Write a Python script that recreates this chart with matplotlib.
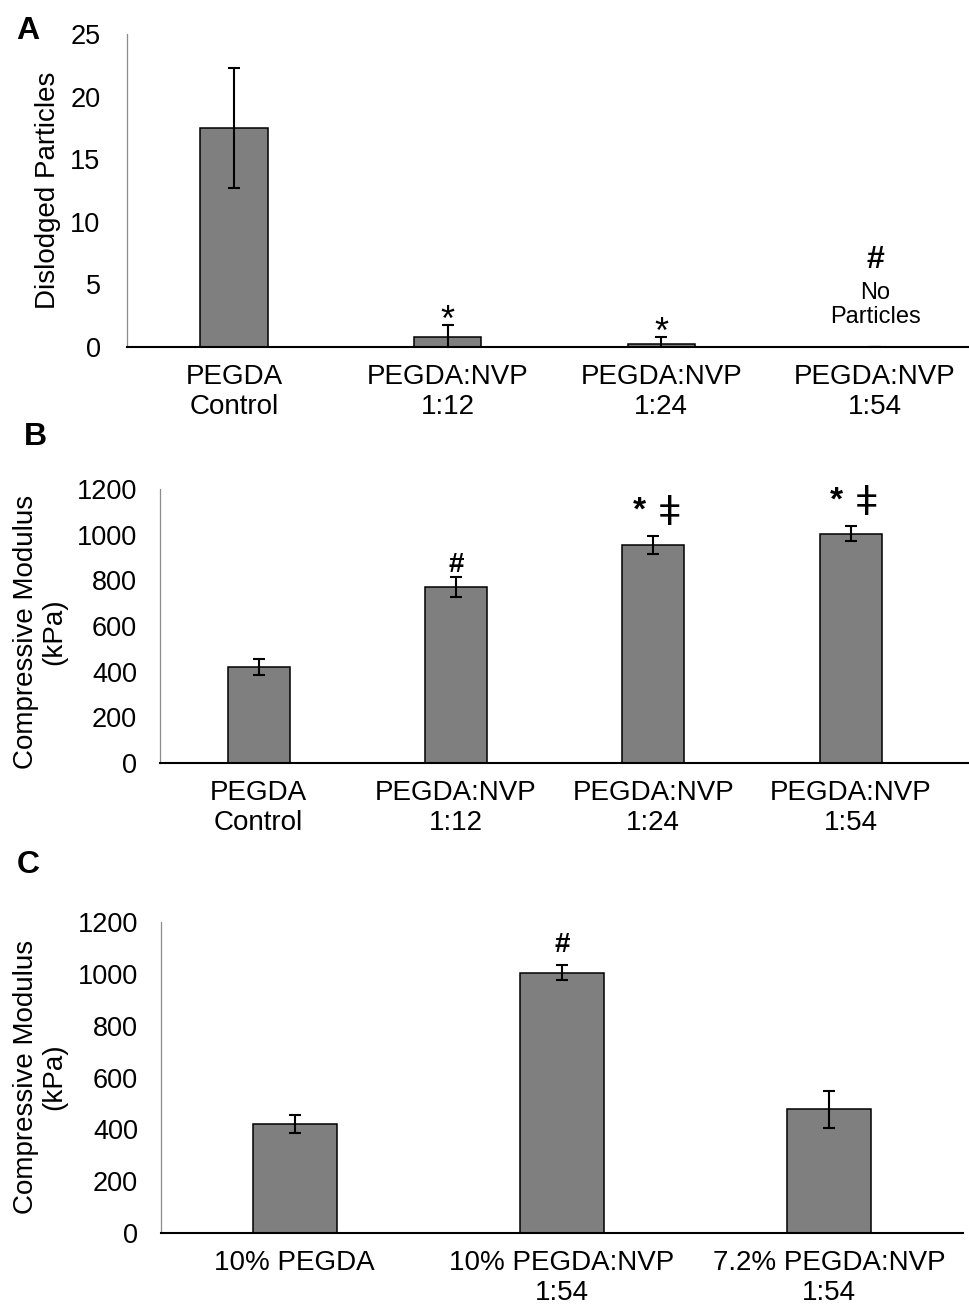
import matplotlib
matplotlib.use('Agg')
import matplotlib.pyplot as plt

plt.rcParams['font.family'] = ['Liberation Sans', 'DejaVu Sans']

# panel A: dislodged particles
a_labels = ['PEGDA\nControl', 'PEGDA:NVP\n1:12', 'PEGDA:NVP\n1:24', 'PEGDA:NVP\n1:54']
a_particles = [17.5, 0.8, 0.27, 0.0]
a_err = [4.8, 0.93, 0.53, 0.0]

# panel B: compressive modulus vs NVP ratio
b_labels = ['PEGDA\nControl', 'PEGDA:NVP\n1:12', 'PEGDA:NVP\n1:24', 'PEGDA:NVP\n1:54']
b_modulus = [419, 770, 955, 1004]
b_err = [35, 44, 40, 33]

# panel C: compressive modulus vs PEGDA content
c_labels = ['10% PEGDA', '10% PEGDA:NVP\n1:54', '7.2% PEGDA:NVP\n1:54']
c_modulus = [420, 1005, 477]
c_err = [34, 30, 70]

W, H = 969, 1309
fig = plt.figure(figsize=(W / 100, H / 100), dpi=100)


def px_axes(left, top, right, bottom):
    return fig.add_axes([left / W, 1 - bottom / H, (right - left) / W, (bottom - top) / H])


def bars(ax, labels, values, errs, ymax, step, xmax, ypad):
    x = list(range(len(values)))
    ax.bar(x, values, width=0.315, color='#7f7f7f', edgecolor='black', linewidth=1.1, zorder=2)
    ax.errorbar(x, values, yerr=errs, fmt='none', ecolor='black', elinewidth=1.5,
                capsize=4.5, capthick=1.5, zorder=3)
    ax.set_xlim(-0.5, xmax)
    ax.set_ylim(0, ymax)
    ax.set_yticks(range(0, ymax + 1, step))
    ax.set_xticks(x)
    ax.set_xticklabels(labels, fontsize=20, linespacing=1.24)
    ax.tick_params(axis='y', length=0, labelsize=19.5, pad=ypad)
    ax.tick_params(axis='x', length=0, pad=12)
    for s in ('top', 'right'):
        ax.spines[s].set_visible(False)
    ax.spines['left'].set_color('#8c8c8c')
    ax.spines['left'].set_linewidth(0.9)
    ax.spines['bottom'].set_color('black')
    ax.spines['bottom'].set_linewidth(1.5)
    for t in ax.get_xticklabels():
        t.set_multialignment('center')


def mark(ax, x, y, text, dy, size=22, bold=False):
    ax.annotate(text, (x, y), xytext=(0, dy), textcoords='offset points',
                ha='center', va='baseline', fontsize=size,
                fontweight='bold' if bold else 'normal', annotation_clip=False)


# A
axA = px_axes(127, 34, 982, 347)
bars(axA, a_labels, a_particles, a_err, 25, 5, 3.5, 19)
mark(axA, 1, a_particles[1] + a_err[1], '*', -4, size=26)
mark(axA, 2, a_particles[2] + a_err[2], '*', -4, size=26)
mark(axA, 3, 0, '#', 57, size=23, bold=True)
axA.annotate('No\nParticles', (3, 0), xytext=(0, 30), textcoords='offset points',
             ha='center', va='center', fontsize=17, linespacing=1.1)

# B
axB = px_axes(160, 489, 969, 763)
bars(axB, b_labels, b_modulus, b_err, 1200, 200, 3.6, 16.5)
mark(axB, 1, b_modulus[1] + b_err[1], '#', 4, size=20, bold=True)
for i in (2, 3):
    top = b_modulus[i] + b_err[i]
    mark(axB, i - 0.07, top, '*', 12, size=24, bold=True)
    mark(axB, i + 0.08, top, 'ǂ', 8, size=29)

# C
axC = px_axes(161, 922, 963, 1233)
bars(axC, c_labels, c_modulus, c_err, 1200, 200, 2.5, 16.5)
mark(axC, 1, c_modulus[1] + c_err[1], '#', 9, size=20, bold=True)

# y labels
fig.text(48 / W, 1 - 190 / H, 'Dislodged Particles', rotation=90, ha='center', va='center', fontsize=20)
fig.text(40 / W, 1 - 632 / H, 'Compressive Modulus\n(kPa)', rotation=90, ha='center', va='center',
         fontsize=20, linespacing=1.1, multialignment='center')
fig.text(40 / W, 1 - 1077 / H, 'Compressive Modulus\n(kPa)', rotation=90, ha='center', va='center',
         fontsize=20, linespacing=1.1, multialignment='center')

# panel letters
for letter, (lx, ly) in zip('ABC', [(28, 31), (35, 437), (28, 865)]):
    fig.text(lx / W, 1 - ly / H, letter, ha='center', va='center', fontsize=23, fontweight='bold')

fig.savefig('out.png', dpi=100)
